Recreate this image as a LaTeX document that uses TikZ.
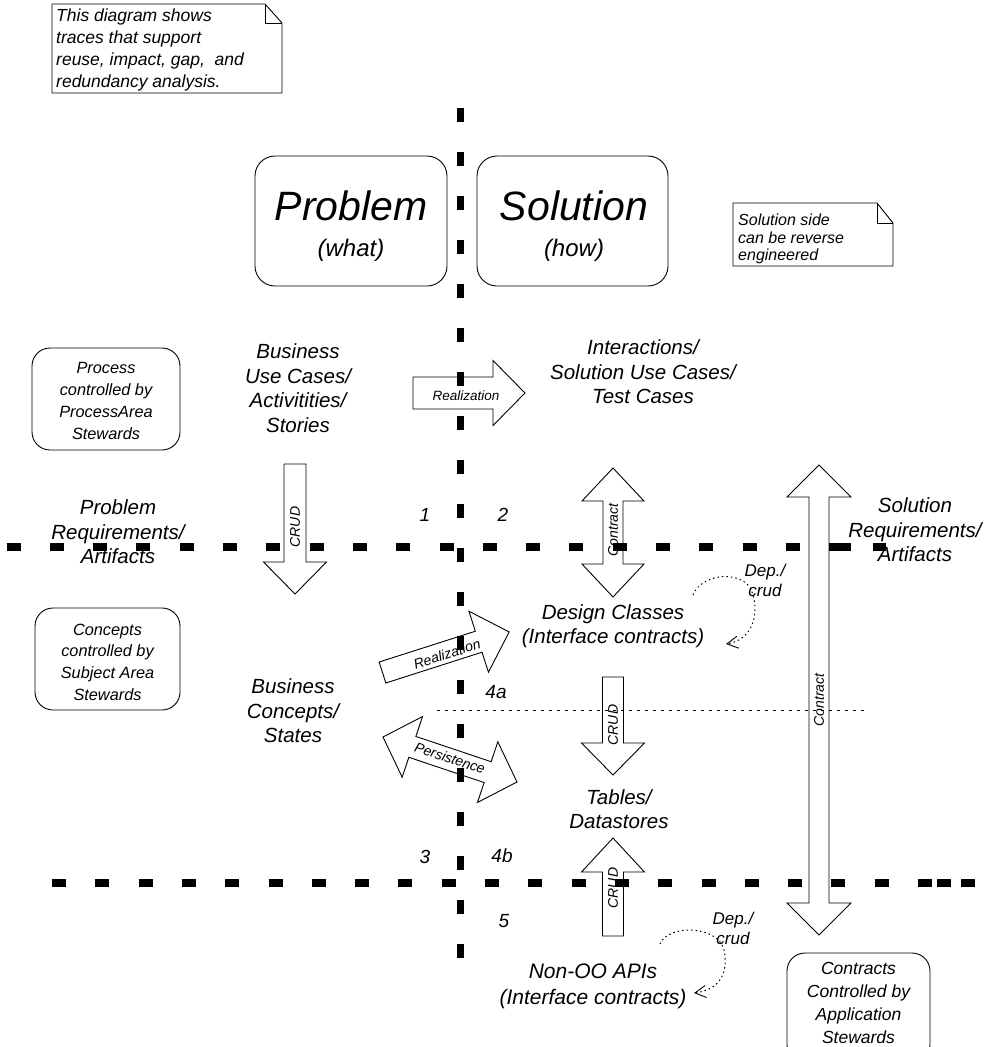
\documentclass[tikz,border=0pt]{standalone}
\usepackage{fontspec}
\setmainfont{Liberation Sans}
\usetikzlibrary{arrows.meta}
% single block arrow: tail centre x, y, angle, length, half shaft, half head, head length
\newcommand{\blockarr}[7]{%
  \begin{scope}[shift={(#1,#2)}, rotate=#3]
    \draw[barrow] (0,-#5) -- ({#4-#7},-#5) -- ({#4-#7},-#6) -- (#4,0) -- ({#4-#7},#6) -- ({#4-#7},#5) -- (0,#5) -- cycle;
  \end{scope}}
% double block arrow: centre x, y, angle, length, half shaft, half head, head length
\newcommand{\dblarr}[7]{%
  \begin{scope}[shift={(#1,#2)}, rotate=#3]
    \draw[barrow] ({-#4/2},0) -- ({-#4/2+#7},-#6) -- ({-#4/2+#7},-#5) -- ({#4/2-#7},-#5) -- ({#4/2-#7},-#6) -- ({#4/2},0)
      -- ({#4/2-#7},#6) -- ({#4/2-#7},#5) -- ({-#4/2+#7},#5) -- ({-#4/2+#7},#6) -- cycle;
  \end{scope}}
\begin{document}
\begin{tikzpicture}[x=1pt,y=-1pt,
  lbl/.style={font=\fontsize{20.5}{24.5}\selectfont\itshape, align=center, inner sep=0pt},
  boxtxt/.style={font=\fontsize{16.3}{21.7}\selectfont\itshape, align=center, inner sep=0pt},
  notetxt/.style={font=\fontsize{17.5}{22}\selectfont\itshape, align=left, inner sep=0pt},
  arrlbl/.style={font=\fontsize{14}{14}\selectfont\itshape, inner sep=0pt},
  num/.style={font=\fontsize{19}{19}\selectfont\itshape, inner sep=0pt},
  deplbl/.style={font=\fontsize{17}{20}\selectfont\itshape, align=center, inner sep=0pt},
  rbox/.style={draw, line width=0.9pt, rounded corners=18pt, inner sep=0pt},
  barrow/.style={draw, line width=0.9pt, line join=miter},
  hdash/.style={line width=7.5pt, dash pattern=on 14pt off 29.3pt},
  vdash/.style={line width=7pt, dash pattern=on 14pt off 30pt},
  thindot/.style={line width=1pt, dash pattern=on 2.5pt off 5.5pt},
  loopdot/.style={line width=1pt, dash pattern=on 1.5pt off 3pt, -{Straight Barb[length=11pt,width=12pt,line width=0.9pt]}}
]
\useasboundingbox (0,0) rectangle (1000,1047);
\fill[white] (0,0) rectangle (1000,1047);

% ---- notes ----
\draw[line width=0.9pt] (52,4) -- (265,4) -- (282,23) -- (282,93) -- (52,93) -- cycle;
\draw[line width=0.9pt] (265,4) -- (265,23) -- (282,23);
\node[notetxt, anchor=west] (note1) at (56,50) {This diagram shows\\traces that support\\reuse, impact, gap,\ \ and\\redundancy analysis.};

\draw[line width=0.9pt] (733,203) -- (877,203) -- (893,223) -- (893,266) -- (733,266) -- cycle;
\draw[line width=0.9pt] (877,203) -- (877,223) -- (893,223);
\node[font=\fontsize{16}{17.5}\selectfont\itshape, align=left, inner sep=0pt, anchor=west] (note2) at (738,239) {Solution side\\can be reverse\\engineered};

% ---- big boxes ----
\node[rbox, rounded corners=20pt, minimum width=192pt, minimum height=130pt] (probbox) at (351,221) {};
\node[font=\fontsize{41}{41}\selectfont\itshape, inner sep=0pt, anchor=base] (probt) at (351,220) {Problem};
\node[font=\fontsize{24}{24}\selectfont\itshape, inner sep=0pt, anchor=base] (probs) at (351,256) {(what)};
\node[rbox, rounded corners=20pt, minimum width=191pt, minimum height=130pt] (solbox) at (572.5,221) {};
\node[font=\fontsize{41}{41}\selectfont\itshape, inner sep=0pt, anchor=base] (solt) at (574,220) {Solution};
\node[font=\fontsize{24}{24}\selectfont\itshape, inner sep=0pt, anchor=base] (sols) at (574,256) {(how)};

% ---- steward boxes ----
\node[rbox, minimum width=148pt, minimum height=102pt] (procbox) at (106,399) {};
\node[boxtxt] (proct) at (106,401) {Process\\controlled by\\ProcessArea\\Stewards};
\node[rbox, minimum width=145pt, minimum height=102pt] (concbox) at (107.5,659) {};
\node[boxtxt] (conct) at (107.5,662) {Concepts\\controlled by\\Subject Area\\Stewards};
\node[rbox, minimum width=143pt, minimum height=110pt] (contbox) at (858.5,1008) {};
\node[font=\fontsize{17.5}{22.7}\selectfont\itshape, align=center, inner sep=0pt] (contt) at (858.5,1003) {Contracts\\Controlled by\\Application\\Stewards};

% ---- main labels ----
\node[lbl] (buc) at (298,388) {Business\\Use Cases/\\Activitities/\\Stories};
\node[lbl] (inter) at (643,372) {Interactions/\\Solution Use Cases/\\Test Cases};
\node[lbl] (preq) at (118,532) {Problem\\Requirements/\\Artifacts};
\node[lbl] (sreq) at (915,530) {Solution\\Requirements/\\Artifacts};
\node[lbl] (design) at (613,626) {Design Classes\\(Interface contracts)};
\node[lbl] (bconc) at (293,711) {Business\\Concepts/\\States};
\node[lbl] (tables) at (619,809) {Tables/\\Datastores};
\node[lbl, font=\fontsize{21}{26}\selectfont\itshape] (nonoo) at (593,986) {Non-OO APIs\\(Interface contracts)};

% ---- numbers ----
\node[num] (n1) at (425,515) {1};
\node[num] (n2) at (503,515) {2};
\node[num] (n3) at (425,857) {3};
\node[num] (n4a) at (496,692) {4a};
\node[num] (n4b) at (502,856) {4b};
\node[num] (n5) at (504,921) {5};

% ---- block arrows ----
\blockarr{413}{393}{0}{112}{16}{32.5}{32}
\node[font=\fontsize{13.5}{13.5}\selectfont\itshape, inner sep=0pt] (real1) at (466,396) {Realization};

\blockarr{295}{464}{-90}{130}{11}{31.5}{32}
\node[arrlbl, rotate=90] (crud1) at (295,527) {CRUD};

\dblarr{613}{532.5}{90}{129}{10}{31}{33}
\node[arrlbl, rotate=90] (contr1) at (613,530) {Contract};

\blockarr{382.5}{672.5}{17.75}{133}{11}{32}{32}
\node[arrlbl, rotate=17.75] (real2) at (447,654) {Realization};

\dblarr{450}{759.5}{-18.56}{141.4}{11}{32}{31}
\node[arrlbl, rotate=-18.56] (pers) at (450,758) {Persistence};

\blockarr{613}{677}{-90}{98}{10.5}{31.5}{32}
\node[arrlbl, rotate=90] (crud2) at (613,725) {CRUD};

\blockarr{613}{936}{90}{98}{10.5}{31.5}{34}
\node[arrlbl, rotate=90] (crud3) at (613,888) {CRUD};

\dblarr{819}{700}{90}{470}{10}{32}{32}
\node[arrlbl, rotate=90] (contr2) at (819,700) {Contract};

% ---- self loops ----
\node[deplbl] (dep1) at (765,580) {Dep./\\crud};
\draw[loopdot] (693,595) .. controls (702,572) and (745,570) .. (752,592) .. controls (760,615) and (752,640) .. (726,644);
\node[deplbl] (dep2) at (733,928) {Dep./\\crud};
\draw[loopdot] (660,944) .. controls (668,924) and (718,925) .. (724,950) .. controls (729,975) and (718,990) .. (694,993);

% ---- dividing lines (on top) ----
\draw[thindot] (437,710) -- (868,710);
\draw[vdash] (460,108) -- (460,958);
\draw[hdash] (6.5,547) -- (886,547);
\draw[line width=7.5pt] (837,547) -- (851,547);
\draw[hdash] (52,883) -- (975.5,883);
\draw[line width=7.5pt] (937,883) -- (951,883);
\end{tikzpicture}
\end{document}
